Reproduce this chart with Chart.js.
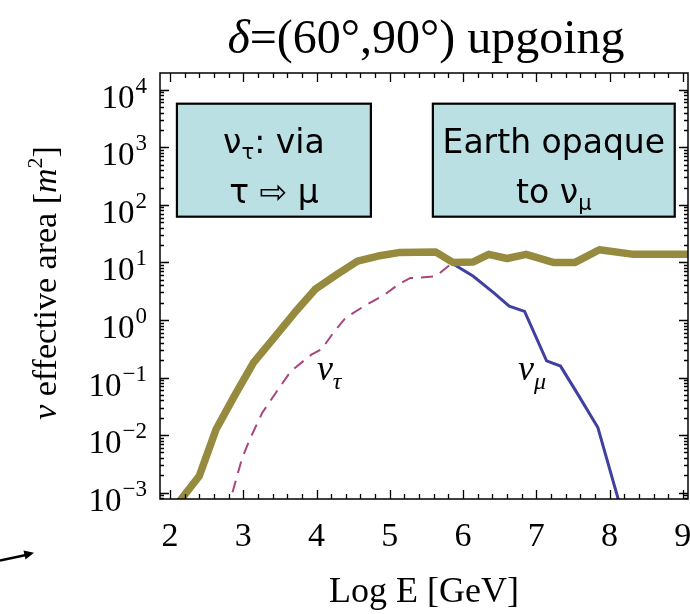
<!DOCTYPE html>
<html>
<head>
<meta charset="utf-8">
<script src="https://cdn.jsdelivr.net/npm/chart.js@4.4.1/dist/chart.umd.min.js"></script>
<style>
  html, body { margin: 0; padding: 0; background: #ffffff; }
  #wrap { width: 690px; height: 614px; position: relative; }
</style>
</head>
<body>
<div id="wrap"><canvas id="c" width="690" height="614"></canvas></div>
<script>
// Effective area vs log10(E/GeV), upgoing events, declination band 60°–90°

// total (ν_τ + ν_μ) effective area
const totalLogE = [2.10, 2.40, 2.63, 2.88, 3.14, 3.42, 3.70, 3.98, 4.28, 4.56, 4.84, 5.12, 5.63, 5.86, 6.14, 6.35, 6.60, 6.86, 7.23, 7.53, 7.86, 8.33, 9.10];
const totalArea = [0.00063, 0.00195, 0.0126, 0.048, 0.182, 0.49, 1.33, 3.39, 6.17, 10.5, 12.9, 14.8, 15.1, 10.0, 10.2, 13.8, 11.7, 13.8, 10.0, 10.0, 16.6, 13.8, 13.8];

// ν_τ contribution (via τ → μ)
const tauLogE = [2.78, 2.98, 3.09, 3.26, 3.49, 3.65, 3.93, 4.07, 4.23, 4.40, 4.65, 4.93, 5.12, 5.28, 5.37, 5.63, 5.86];
const tauArea = [0.00047, 0.0038, 0.0085, 0.0245, 0.066, 0.129, 0.25, 0.31, 0.60, 1.10, 1.74, 2.75, 4.17, 5.37, 5.37, 5.75, 10.0];

// ν_μ contribution (Earth absorption at high energy)
const muLogE = [5.86, 6.14, 6.42, 6.63, 6.84, 7.14, 7.33, 7.58, 7.84, 8.16];
const muArea = [9.5, 5.75, 2.95, 1.74, 1.41, 0.195, 0.158, 0.048, 0.0135, 0.0005];

// axis ticks
const xTickLabels = [2, 3, 4, 5, 6, 7, 8, 9];
const yTickExponents = [-3, -2, -1, 0, 1, 2, 3, 4];

const xMin = 1.864, xMax = 9.07;
const yMin = Math.pow(10, -3.11), yMax = Math.pow(10, 4.29);

const SERIF = '"Liberation Serif", "DejaVu Serif", serif';
const SANS = '"DejaVu Sans", Verdana, sans-serif';

function pts(xs, ys) { return xs.map((x, i) => ({ x: x, y: ys[i] })); }

// draw a run of text pieces: [text, font, dy, extra gap]
function drawPieces(ctx, pieces, x, y, align) {
  let total = 0;
  for (const p of pieces) { ctx.font = p[1]; total += ctx.measureText(p[0]).width + (p[3] || 0); }
  let cx = align === 'center' ? x - total / 2 : (align === 'right' ? x - total : x);
  ctx.textAlign = 'left';
  for (const p of pieces) {
    ctx.font = p[1];
    ctx.fillText(p[0], cx, y + (p[2] || 0));
    cx += ctx.measureText(p[0]).width + (p[3] || 0);
  }
  return total;
}

const frameAndText = {
  id: 'frameAndText',
  beforeDatasetsDraw(chart) {
    const ctx = chart.ctx, xs = chart.scales.x, ys = chart.scales.y;
    // annotation boxes
    const boxes = [
      { x0: 2.095, x1: 4.742, y0: 3.757, y1: 1.794 },
      { x0: 5.588, x1: 8.889, y0: 3.757, y1: 1.794 }
    ];
    ctx.save();
    for (const b of boxes) {
      const l = xs.getPixelForValue(b.x0), r = xs.getPixelForValue(b.x1);
      const t = ys.getPixelForValue(Math.pow(10, b.y0)), bt = ys.getPixelForValue(Math.pow(10, b.y1));
      ctx.fillStyle = '#bae0e3';
      ctx.fillRect(l, t, r - l, bt - t);
      ctx.strokeStyle = '#000';
      ctx.lineWidth = 2.2;
      ctx.strokeRect(l, t, r - l, bt - t);
    }
    ctx.fillStyle = '#000';
    ctx.textBaseline = 'alphabetic';
    const c1 = (xs.getPixelForValue(2.095) + xs.getPixelForValue(4.742)) / 2;
    const c2 = (xs.getPixelForValue(5.588) + xs.getPixelForValue(8.889)) / 2;
    const f = '33px ' + SANS, fs = '21px ' + SANS;
    drawPieces(ctx, [['\u03bd', f], ['\u03c4', fs, 6], [': via', f]], c1, 153, 'center');
    drawPieces(ctx, [['\u03c4 \u21e8 \u03bc', f]], c1, 203, 'center');
    drawPieces(ctx, [['Earth opaque', f]], c2, 153, 'center');
    drawPieces(ctx, [['to \u03bd', f], ['\u03bc', fs, 7]], c2, 203, 'center');
    ctx.restore();
  },
  afterDraw(chart) {
    const ctx = chart.ctx, a = chart.chartArea, xs = chart.scales.x, ys = chart.scales.y;
    ctx.save();
    // frame
    ctx.strokeStyle = '#000';
    ctx.lineWidth = 1.5;
    ctx.strokeRect(a.left, a.top, a.right - a.left, a.bottom - a.top);
    // inward ticks, x (bottom and top)
    ctx.lineWidth = 1.3;
    ctx.beginPath();
    for (let k = 0; k <= 36; k++) {
      const v = 2 + k * 0.2;
      if (v < xMin || v > xMax) continue;
      const px = Math.round(xs.getPixelForValue(v)) + 0.5;
      const len = (k % 5 === 0) ? 9 : 5;
      ctx.moveTo(px, a.bottom); ctx.lineTo(px, a.bottom - len);
      ctx.moveTo(px, a.top); ctx.lineTo(px, a.top + len);
    }
    // inward ticks, y (left and right)
    for (let e = -4; e <= 4; e++) {
      for (let m = 1; m <= 9; m++) {
        const v = m * Math.pow(10, e);
        if (v < yMin || v > yMax) continue;
        const py = Math.round(ys.getPixelForValue(v)) + 0.5;
        const len = (m === 1) ? 9 : 4;
        ctx.moveTo(a.left, py); ctx.lineTo(a.left + len, py);
        ctx.moveTo(a.right, py); ctx.lineTo(a.right - len, py);
      }
    }
    ctx.stroke();

    ctx.fillStyle = '#000';
    ctx.textBaseline = 'alphabetic';
    // x tick labels
    ctx.font = '34px ' + SERIF;
    ctx.textAlign = 'center';
    for (const v of xTickLabels) {
      ctx.fillText(String(v), xs.getPixelForValue(v), 546);
    }
    // y tick labels 10^n
    for (const e of yTickExponents) {
      const py = ys.getPixelForValue(Math.pow(10, e));
      const expStr = e < 0 ? '\u2212' + (-e) : String(e);
      ctx.textAlign = 'right';
      ctx.font = '23px ' + SERIF;
      const expRight = a.left - 13;
      ctx.fillText(expStr, expRight, py + 3);
      const w = ctx.measureText(expStr).width;
      ctx.font = '33px ' + SERIF;
      ctx.fillText('10', expRight - w - 1, py + 18);
    }
    // series labels
    const lt = [xs.getPixelForValue(4.005), ys.getPixelForValue(Math.pow(10, -1.05))];
    drawPieces(ctx, [['\u03bd', 'italic 36px ' + SERIF], ['\u03c4', 'italic 24px ' + SERIF, 9]], lt[0], lt[1], 'left');
    const lm = [xs.getPixelForValue(6.75), ys.getPixelForValue(Math.pow(10, -1.05))];
    drawPieces(ctx, [['\u03bd', 'italic 36px ' + SERIF], ['\u03bc', 'italic 24px ' + SERIF, 9]], lm[0], lm[1], 'left');

    // title
    const cx = (a.left + a.right) / 2;
    drawPieces(ctx, [['\u03b4', 'italic 48px ' + SERIF], ['=(60\u00b0,90\u00b0) upgoing', '48px ' + SERIF]], cx + 2, 53, 'center');
    // x axis title
    drawPieces(ctx, [['Log E [GeV]', '36px ' + SERIF]], cx, 602, 'center');
    // y axis title
    ctx.save();
    ctx.translate(56, 283);
    ctx.rotate(-Math.PI / 2);
    drawPieces(ctx, [
      ['\u03bd', 'italic 34px ' + SERIF],
      [' effective area [', '34px ' + SERIF],
      ['m', 'italic 34px ' + SERIF],
      ['2', '22px ' + SERIF, -14],
      [']', '34px ' + SERIF]
    ], 0, 0, 'center');
    ctx.restore();

    // arrow at lower left
    ctx.strokeStyle = '#000';
    ctx.fillStyle = '#000';
    ctx.lineWidth = 2.5;
    ctx.beginPath();
    ctx.moveTo(0, 560.5); ctx.lineTo(26, 555);
    ctx.stroke();
    ctx.beginPath();
    ctx.moveTo(34, 552.7); ctx.lineTo(23.5, 550.5); ctx.lineTo(25.5, 559.5);
    ctx.closePath(); ctx.fill();
    ctx.restore();
  }
};

new Chart(document.getElementById('c'), {
  type: 'line',
  data: {
    datasets: [
      {
        label: 'total',
        data: pts(totalLogE, totalArea),
        borderColor: '#968a3e',
        borderWidth: 7.5,
        borderJoinStyle: 'round',
        borderCapStyle: 'round',
        pointRadius: 0,
        tension: 0,
        fill: false
      },
      {
        label: 'nu_mu',
        data: pts(muLogE, muArea),
        borderColor: '#40409e',
        borderWidth: 3,
        pointRadius: 0,
        tension: 0,
        fill: false
      },
      {
        label: 'nu_tau',
        data: pts(tauLogE, tauArea),
        borderColor: '#a8457d',
        borderWidth: 2,
        borderDash: [12, 8],
        pointRadius: 0,
        tension: 0,
        fill: false
      }
    ]
  },
  options: {
    responsive: false,
    animation: false,
    devicePixelRatio: 1,
    layout: { padding: { left: 160, top: 73, right: 2, bottom: 115 } },
    plugins: { legend: { display: false }, title: { display: false }, tooltip: { enabled: false } },
    scales: {
      x: { type: 'linear', min: xMin, max: xMax, display: false },
      y: { type: 'logarithmic', min: yMin, max: yMax, display: false }
    }
  },
  plugins: [frameAndText]
});
</script>
</body>
</html>
